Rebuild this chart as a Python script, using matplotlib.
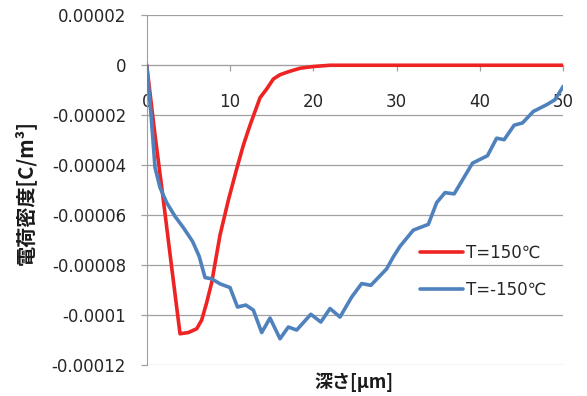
import matplotlib
matplotlib.use("Agg")
import matplotlib.pyplot as plt
from matplotlib.ticker import FixedLocator, FixedFormatter

# Charge density profiles vs. depth
red_depth = [0, 1, 2, 3, 4, 5, 6, 6.6, 7.2, 7.8, 8.8, 9.8, 10.8, 11.6, 12.4,
             13.6, 14.4, 15.2, 16.0, 17.0, 18.4, 20.0, 22.0, 30.0, 40.0, 50.0]
red_rho = [0, -2.8e-5, -5.4e-5, -8.1e-5, -1.075e-4, -1.07e-4, -1.055e-4,
           -1.02e-4, -9.5e-5, -8.7e-5, -6.8e-5, -5.4e-5, -4.15e-5, -3.2e-5,
           -2.4e-5, -1.3e-5, -9.5e-6, -5.5e-6, -3.8e-6, -2.6e-6, -1.2e-6,
           -5e-7, 0, 0, 0, 0]

blue_depth = [0, 0.5, 1.0, 1.6, 2.4, 3.4, 4.4, 5.5, 6.3, 7.0, 7.8, 8.8, 10.0,
              10.9, 11.9, 12.8, 13.8, 14.8, 16.0, 17.0, 18.0, 19.7, 20.9,
              22.0, 23.2, 24.6, 25.8, 26.9, 28.8, 29.6, 30.4, 32.0, 33.8,
              34.8, 35.8, 36.9, 39.1, 40.9, 42.0, 42.9, 44.1, 45.1, 46.4,
              48.0, 49.0, 50.0]
blue_rho = [0, -1.9e-5, -4.1e-5, -4.9e-5, -5.5e-5, -6.05e-5, -6.5e-5,
            -7.05e-5, -7.65e-5, -8.5e-5, -8.55e-5, -8.75e-5, -8.9e-5,
            -9.68e-5, -9.6e-5, -9.8e-5, -1.07e-4, -1.012e-4, -1.095e-4,
            -1.048e-4, -1.06e-4, -9.97e-5, -1.028e-4, -9.74e-5, -1.008e-4,
            -9.28e-5, -8.74e-5, -8.81e-5, -8.15e-5, -7.67e-5, -7.25e-5,
            -6.6e-5, -6.37e-5, -5.5e-5, -5.1e-5, -5.15e-5, -3.92e-5,
            -3.62e-5, -2.92e-5, -2.98e-5, -2.4e-5, -2.31e-5, -1.85e-5,
            -1.58e-5, -1.38e-5, -8.4e-6]

series_labels = ["T=150℃", "T=-150℃"]
x_ticks = [0, 10, 20, 30, 40, 50]
x_tick_labels = ["0", "10", "20", "30", "40", "50"]
y_ticks = [0.00002, 0, -0.00002, -0.00004, -0.00006, -0.00008, -0.0001, -0.00012]
y_tick_labels = ["0.00002", "0", "-0.00002", "-0.00004", "-0.00006",
                 "-0.00008", "-0.0001", "-0.00012"]
x_label = "深さ[μm]"
y_label = "電荷密度[C/m³]"

W, H = 587, 396
fig = plt.figure(figsize=(W / 100, H / 100), dpi=100)
ax = fig.add_axes([146.7 / W, 1 - 365 / H, (563.3 - 146.7) / W, (365 - 15.3) / H])

grid_c = "#A0A0A0"
ax.set_xlim(0, 50)
ax.set_ylim(-0.00012, 0.00002)
ax.yaxis.set_major_locator(FixedLocator(y_ticks))
ax.yaxis.set_major_formatter(FixedFormatter(y_tick_labels))
ax.xaxis.set_major_locator(FixedLocator(x_ticks))
ax.xaxis.set_major_formatter(FixedFormatter(x_tick_labels))
ax.grid(axis="y", color=grid_c, lw=0.9)
ax.set_axisbelow(True)

for s in ("top", "right"):
    ax.spines[s].set_visible(False)
ax.spines["left"].set_color(grid_c)
ax.spines["bottom"].set_color(grid_c)
ax.spines["bottom"].set_position(("data", 0))

ax.tick_params(axis="y", direction="out", length=4.3, width=0.9, color=grid_c,
               pad=10.6, labelsize=12, labelcolor="#262626")
ax.tick_params(axis="x", direction="out", length=4.3, width=0.9, color=grid_c,
               pad=15.5, labelsize=12, labelcolor="#262626")

line_style = dict(lw=2.6, solid_capstyle="round", solid_joinstyle="round")
ax.plot(red_depth, red_rho, color="#EE2323", label=series_labels[0],
        zorder=3, **line_style)
ax.plot(blue_depth, blue_rho, color="#4F81BD", label=series_labels[1],
        zorder=4, **line_style)

leg = ax.legend(loc="center left", bbox_to_anchor=(420 / W, 1 - 271.5 / H),
                bbox_transform=fig.transFigure, frameon=False, borderpad=0,
                borderaxespad=0, handlelength=2.6, handletextpad=0.15,
                labelspacing=1.15,
                prop=dict(family=["DejaVu Sans", "Noto Sans CJK JP"], size=12))
for t in leg.get_texts():
    t.set_color("#262626")

cjk = ["Noto Sans CJK JP", "DejaVu Sans"]
fig.text(25 / W, 1 - 193 / H, y_label, rotation=90, ha="center", va="center",
         family=cjk, fontsize=14.5, fontweight="bold", color="#1a1a1a")
fig.text(354 / W, 1 - 382 / H, x_label, ha="center", va="center",
         family=cjk, fontsize=13, fontweight="bold", color="#1a1a1a")

fig.savefig("out.png", dpi=100)
